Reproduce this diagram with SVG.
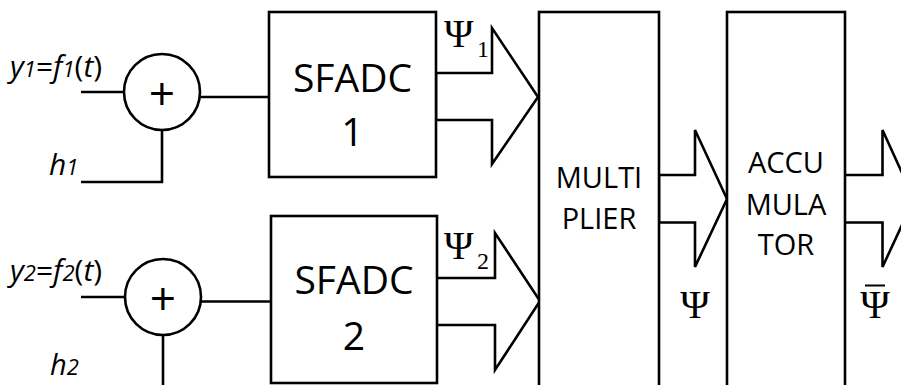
<svg xmlns="http://www.w3.org/2000/svg" width="901" height="385" viewBox="0 0 901 385">
<style>
.ln{fill:none;stroke:#000;stroke-width:2.6;stroke-linejoin:miter}
.bx{fill:#fff;stroke:#000;stroke-width:2.6}
.lbl{font-family:"Open Sans","Liberation Sans",sans-serif;fill:#000}
.it{font-style:italic}
.blk{font-family:"Open Sans","Liberation Sans",sans-serif;font-size:39px;text-anchor:middle;fill:#000}
.blk2{font-family:"Open Sans","Liberation Sans",sans-serif;font-size:29px;text-anchor:middle;fill:#000}
.psi{font-family:"Liberation Serif","DejaVu Serif",serif;fill:#000}
</style>
<rect width="901" height="385" fill="#fff"/>
<g id="connectors">
  <polyline class="ln" points="81,92 124,92"/>
  <polyline class="ln" points="81,182 162,182 162,130"/>
  <polyline class="ln" points="200,97 269,97"/>
  <polyline class="ln" points="81,297 125,297"/>
  <polyline class="ln" points="163,335 163,390"/>
  <polyline class="ln" points="201,301.5 271,301.5"/>
  <polygon class="ln" points="436,73 492,73 492,28 538,97 492,164 492,120 436,120"/>
  <polygon class="ln" points="436,278 495,278 495,233 540,301 495,370 495,325 436,325"/>
  <polygon class="ln" points="659,175 695,175 695,130 727,199 695,267 695,222.5 659,222.5"/>
  <polyline class="ln" points="845,175 882.5,175 882.5,130 914,199 882.5,267 882.5,222.5 845,222.5"/>
</g>
<g id="sum1">
  <circle class="bx" cx="162" cy="92" r="38"/>
  <text class="lbl" x="162" y="110" font-size="46" text-anchor="middle">+</text>
</g>
<g id="sum2">
  <circle class="bx" cx="163" cy="297" r="38"/>
  <text class="lbl" x="163" y="315" font-size="46" text-anchor="middle">+</text>
</g>
<g id="label-y1">
  <text class="lbl" x="10" y="77" font-size="30"><tspan class="it">y</tspan><tspan class="it" font-size="22">1</tspan>=<tspan class="it">f</tspan><tspan class="it" font-size="22">1</tspan>(<tspan class="it">t</tspan>)</text>
</g>
<g id="label-h1">
  <text class="lbl" x="49" y="175" font-size="30"><tspan class="it">h</tspan><tspan class="it" font-size="22">1</tspan></text>
</g>
<g id="label-y2">
  <text class="lbl" x="10" y="281" font-size="30"><tspan class="it">y</tspan><tspan class="it" font-size="22">2</tspan>=<tspan class="it">f</tspan><tspan class="it" font-size="22">2</tspan>(<tspan class="it">t</tspan>)</text>
</g>
<g id="label-h2">
  <text class="lbl" x="50" y="375" font-size="29"><tspan class="it">h</tspan><tspan class="it" font-size="22">2</tspan></text>
</g>
<g id="sfadc1">
  <rect class="bx" x="269" y="12" width="167" height="165"/>
  <text class="blk" x="352.5" y="92">SFADC</text>
  <text class="blk" x="352.5" y="146">1</text>
</g>
<g id="sfadc2">
  <rect class="bx" x="271" y="216" width="166" height="167"/>
  <text class="blk" x="354" y="294">SFADC</text>
  <text class="blk" x="354" y="350">2</text>
</g>
<g id="label-psi1">
  <text class="psi" x="444" y="47" font-size="40">Ψ</text>
  <text class="psi" x="477" y="57" font-size="24">1</text>
</g>
<g id="label-psi2">
  <text class="psi" x="444" y="259" font-size="40">Ψ</text>
  <text class="psi" x="477" y="269" font-size="24">2</text>
</g>
<g id="multiplier">
  <rect class="bx" x="539" y="12" width="120" height="400"/>
  <text class="blk2" x="599" y="188">MULTI</text>
  <text class="blk2" x="599" y="229">PLIER</text>
</g>
<g id="accumulator">
  <rect class="bx" x="727" y="12" width="118" height="400"/>
  <text class="blk2" x="786" y="173">ACCU</text>
  <text class="blk2" x="786" y="215">MULA</text>
  <text class="blk2" x="786" y="255">TOR</text>
</g>
<g id="label-psi">
  <text class="psi" x="695" y="318" font-size="40" text-anchor="middle">Ψ</text>
</g>
<g id="label-psibar">
  <text class="psi" x="875" y="318" font-size="40" text-anchor="middle">Ψ</text>
  <line x1="865" y1="285.5" x2="885" y2="285.5" stroke="#000" stroke-width="2"/>
</g>
</svg>
